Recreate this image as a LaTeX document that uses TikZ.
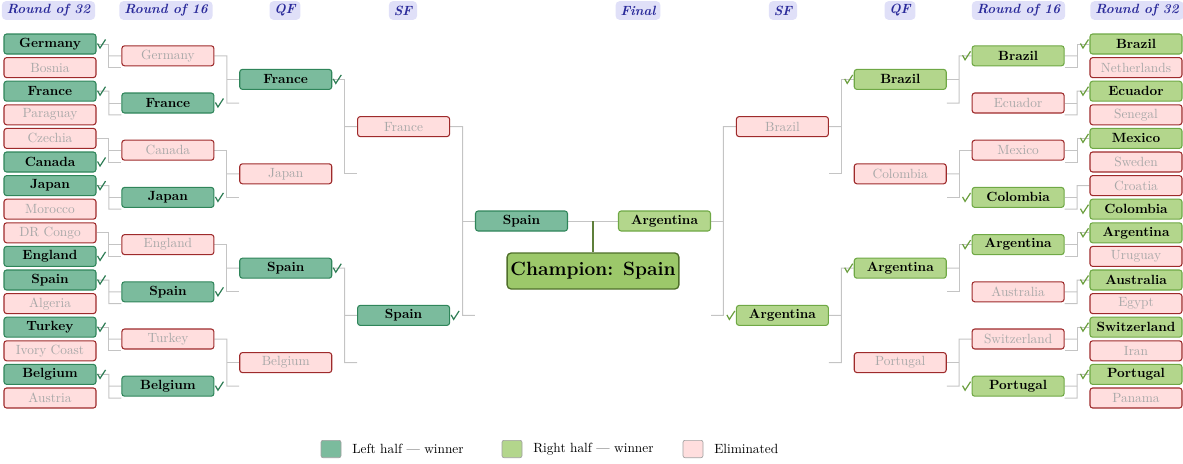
\documentclass[tikz,border=0pt]{standalone}
\usetikzlibrary{calc}
\pgfdeclarelayer{bg}
\pgfsetlayers{bg,main}
\definecolor{lwin}{HTML}{7BBB9D}
\definecolor{lwinb}{HTML}{2F855A}
\definecolor{rwin}{HTML}{B3D68C}
\definecolor{rwinb}{HTML}{6FA845}
\definecolor{elimf}{HTML}{FFDEDE}
\definecolor{elimb}{HTML}{9E2A2B}
\definecolor{elimt}{HTML}{A8A8A8}
\definecolor{champf}{HTML}{9CC86A}
\definecolor{champb}{HTML}{4F6F2A}
\definecolor{champl}{HTML}{5E7F3A}
\definecolor{hdrf}{HTML}{E0E0F8}
\definecolor{hdrt}{HTML}{2A2A9A}
\definecolor{conc}{HTML}{C4C4C4}
\definecolor{chkl}{HTML}{2E7D55}
\definecolor{chkr}{HTML}{6A9E3E}
\definecolor{legb}{HTML}{A0A0A0}

\newcommand\chkmarkL[1]{\draw[chkLs] (#1.east) ++(1,-0.5) -- ++(2.5,4.5) -- ++(5.5,-8.5);}
\newcommand\chkmarkR[1]{\draw[chkRs] (#1.west) ++(-9,-0.5) -- ++(2.5,4.5) -- ++(5.5,-8.5);}
% prefix, x, y0, dy, side, list
\newcommand\bcol[6]{%
  \foreach \t/\s/\c [count=\i from 0] in {#6}{%
    \node[\s] (#1\i) at (#2,{#3+#4*\i}) {\t};
    \ifnum\c=1 \csname chkmark#5\endcsname{#1\i}\fi
  }}
\newcommand\joinL[3]{%
  \draw[con] (#1.east) -- ($(#1.east)!.5!(#3.west|-#1.east)$) |- (#3.west|-#2.center);
  \draw[con] (#3.west) -- ($(#3.west)!.5!(#1.east|-#3.west)$);}
\newcommand\joinR[3]{%
  \draw[con] (#1.west) -- ($(#1.west)!.5!(#3.east|-#1.west)$) |- (#3.east|-#2.center);
  \draw[con] (#3.east) -- ($(#3.east)!.5!(#1.west|-#3.east)$);}

\begin{document}
\begin{tikzpicture}[x=0.75pt,y=-0.75pt,
  box/.style={draw, rounded corners=2pt, minimum width=69pt, minimum height=15pt, inner sep=1pt, line width=0.8pt},
  winL/.style={box, fill=lwin, draw=lwinb, font=\bfseries, text=black},
  winR/.style={box, fill=rwin, draw=rwinb, font=\bfseries, text=black},
  elim/.style={box, fill=elimf, draw=elimb, text=elimt},
  hdr/.style={fill=hdrf, rounded corners=3pt, text=hdrt, font=\bfseries\itshape, inner xsep=3.7pt, inner ysep=2pt, minimum height=14pt},
  con/.style={draw=conc, line width=0.75pt},
  chkLs/.style={draw=chkl, line width=0.9pt},
  chkRs/.style={draw=chkr, line width=0.9pt},
  champ/.style={draw=champb, fill=champf, line width=1pt, rounded corners=3pt, font=\Large\bfseries, inner xsep=2.5pt, minimum height=27pt},
  chl/.style={draw=champl, line width=1.5pt},
  legsq/.style={draw=legb, rounded corners=1.5pt, minimum width=15pt, minimum height=13pt, inner sep=0pt, line width=0.5pt},
  legtx/.style={anchor=west, inner sep=0pt}
]
\useasboundingbox (0,0) rectangle (1183,464);

% headers
\node[hdr] (h1) at (48.5,10.5) {Round of 32};
\node[hdr] (h2) at (166,10.5) {Round of 16};
\node[hdr] (h3) at (285,10.5) {QF};
\node[hdr] (h4) at (403,10.5) {SF};
\node[hdr] (h5) at (638,10.5) {Final};
\node[hdr] (h6) at (783,10.5) {SF};
\node[hdr] (h7) at (900,10.5) {QF};
\node[hdr] (h8) at (1018.5,10.5) {Round of 16};
\node[hdr] (h9) at (1137,10.5) {Round of 32};

% left half
\bcol{La}{50}{44}{23.6}{L}{Germany/winL/1, Bosnia/elim/0, France/winL/1, Paraguay/elim/0, Czechia/elim/0, Canada/winL/1, Japan/winL/1, Morocco/elim/0, DR Congo/elim/0, England/winL/1, Spain/winL/1, Algeria/elim/0, Turkey/winL/1, Ivory Coast/elim/0, Belgium/winL/1, Austria/elim/0}
\bcol{Lb}{167.9}{55.8}{47.2}{L}{Germany/elim/0, France/winL/1, Canada/elim/0, Japan/winL/1, England/elim/0, Spain/winL/1, Turkey/elim/0, Belgium/winL/1}
\bcol{Lc}{285.75}{79.4}{94.4}{L}{France/winL/1, Japan/elim/0, Spain/winL/1, Belgium/elim/0}
\bcol{Ld}{403.6}{126.6}{188.8}{L}{France/elim/0, Spain/winL/1}
\node[winL] (Le) at (521.5,221) {Spain};

% right half
\bcol{Ra}{1136}{44}{23.6}{R}{Brazil/winR/1, Netherlands/elim/0, Ecuador/winR/1, Senegal/elim/0, Mexico/winR/1, Sweden/elim/0, Croatia/elim/0, Colombia/winR/1, Argentina/winR/1, Uruguay/elim/0, Australia/winR/1, Egypt/elim/0, Switzerland/winR/1, Iran/elim/0, Portugal/winR/1, Panama/elim/0}
\bcol{Rb}{1018.1}{55.8}{47.2}{R}{Brazil/winR/1, Ecuador/elim/0, Mexico/elim/0, Colombia/winR/1, Argentina/winR/1, Australia/elim/0, Switzerland/elim/0, Portugal/winR/1}
\bcol{Rc}{900.25}{79.4}{94.4}{R}{Brazil/winR/1, Colombia/elim/0, Argentina/winR/1, Portugal/elim/0}
\bcol{Rd}{782.4}{126.6}{188.8}{R}{Brazil/elim/0, Argentina/winR/1}
\node[winR] (Re) at (664.5,221) {Argentina};

% champion
\node[champ] (ch) at (593,271) {Champion: Spain};

\begin{pgfonlayer}{bg}
\foreach \j in {0,...,7}{%
  \pgfmathtruncatemacro\a{2*\j}\pgfmathtruncatemacro\b{2*\j+1}%
  \joinL{La\a}{La\b}{Lb\j}
  \joinR{Ra\a}{Ra\b}{Rb\j}
}
\foreach \j in {0,...,3}{%
  \pgfmathtruncatemacro\a{2*\j}\pgfmathtruncatemacro\b{2*\j+1}%
  \joinL{Lb\a}{Lb\b}{Lc\j}
  \joinR{Rb\a}{Rb\b}{Rc\j}
}
\foreach \j in {0,1}{%
  \pgfmathtruncatemacro\a{2*\j}\pgfmathtruncatemacro\b{2*\j+1}%
  \joinL{Lc\a}{Lc\b}{Ld\j}
  \joinR{Rc\a}{Rc\b}{Rd\j}
}
\joinL{Ld0}{Ld1}{Le}
\joinR{Rd0}{Rd1}{Re}
\draw[con] (Le.east) -- (Re.west);
\end{pgfonlayer}
\draw[chl] ($(Le.east)!.5!(Re.west)$) -- (ch.north);

% legend
\node[legsq, fill=lwin] (k1) at (331,449) {};
\node[legtx] (k1t) at (352,449) {Left half --- winner};
\node[legsq, fill=rwin] (k2) at (512,449) {};
\node[legtx] (k2t) at (533,449) {Right half --- winner};
\node[legsq, fill=elimf] (k3) at (693,449) {};
\node[legtx] (k3t) at (714,449) {Eliminated};
\end{tikzpicture}
\end{document}
